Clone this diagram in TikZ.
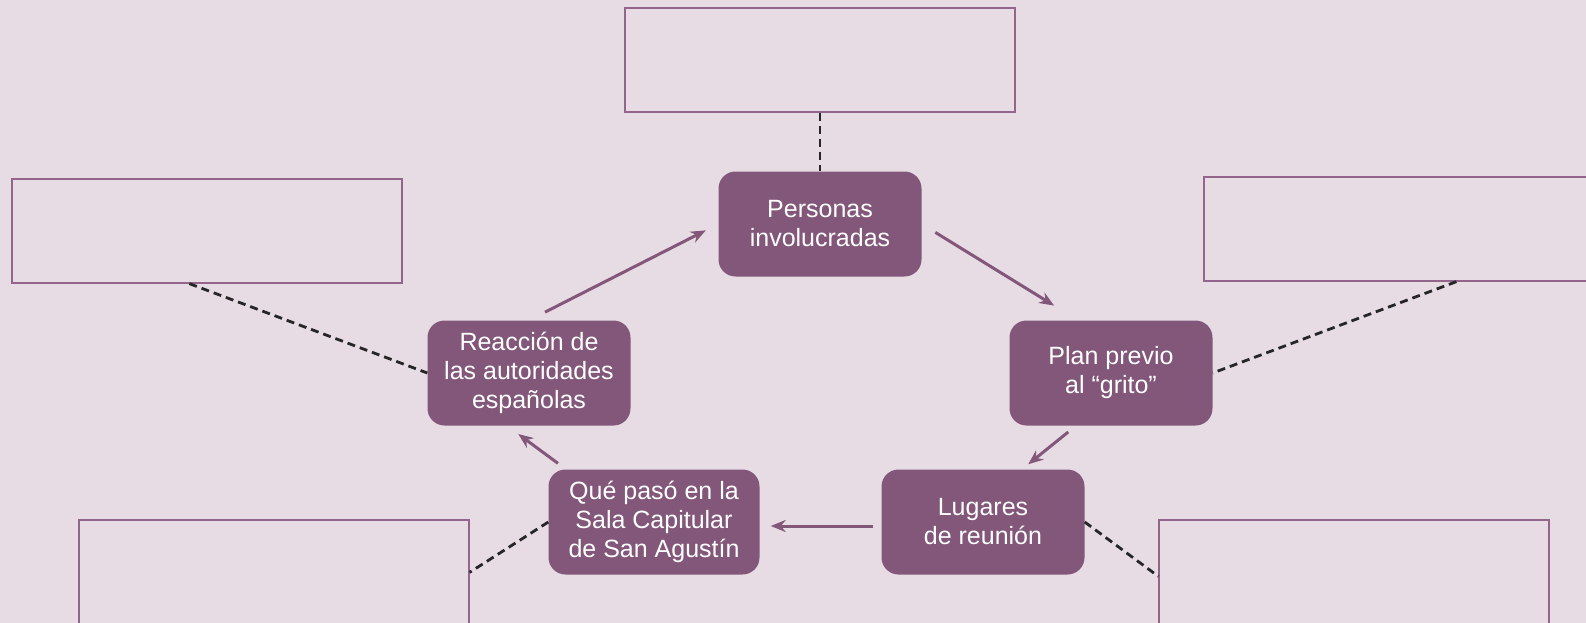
\documentclass[tikz,border=0pt]{standalone}
\usepackage{fontspec}
\setmainfont{Liberation Sans}
\usetikzlibrary{arrows.meta}
\definecolor{mauve}{HTML}{82577A}
\definecolor{lilac}{HTML}{E8DCE4}
\definecolor{framecol}{HTML}{93658B}
\begin{document}
\begin{tikzpicture}[x=1pt,y=-1pt]
            \tikzset{topic/.style = {shape=rectangle, rounded corners=17pt, fill=mauve, text=white, minimum width=203pt, minimum height=105pt, align=center, font=\fontsize{25}{29}\selectfont}}
            \tikzset{blank/.style = {shape=rectangle, draw=framecol, line width=1.3pt, minimum width=390pt, minimum height=104pt}}
            \tikzset{link/.style = {draw=mauve, line width=3pt, -{Stealth[length=15pt,width=12pt]}}}
            \tikzset{note/.style = {draw=black!85, line width=2.8pt, dash pattern=on 8pt off 5pt}}
            % background
            \fill[lilac] (0,0) rectangle (1586,623);
            \useasboundingbox (0,0) rectangle (1586,623);
            % empty boxes
            \node[blank] (tbox)  at (820,60)   {};
            \node[blank] (lbox)  at (207,231)  {};
            \node[blank] (rbox)  at (1399,229) {};
            \node[blank] (blbox) at (274,572)  {};
            \node[blank] (brbox) at (1354,572) {};
            % topics
            \node[topic] (pers) at (820,224)  {Personas\\involucradas};
            \node[topic] (reac) at (529,373)  {Reacción de\\las autoridades\\españolas};
            \node[topic] (plan) at (1111,373) {Plan previo\\al “grito”};
            \node[topic, minimum width=211pt] (que) at (654,522) {Qué pasó en la\\Sala Capitular\\de San Agustín};
            \node[topic] (lug)  at (983,522)  {Lugares\\de reunión};
            % arrows
            \draw[link, shorten <=18pt, shorten >=14pt] (reac.north) to (pers.west);
            \draw[link, shorten <=16pt, shorten >=28pt] (pers.east) to ([xshift=-33pt]plan.north);
            \draw[link, shorten <=10pt, shorten >=8pt] ([xshift=-35pt]plan.south) to ([xshift=39pt]lug.north);
            \draw[link, shorten <=8pt, shorten >=11pt] ([yshift=-4pt]lug.west) to ([yshift=-4pt]que.east);
            \draw[link, shorten <=10pt, shorten >=14pt] ([xshift=-88pt]que.north) to ([xshift=-22pt]reac.south);
            % dashed links
            \draw[note] (tbox.south) to (pers.north);
            \draw[note] ([xshift=178pt]lbox.south west) to (reac.west);
            \draw[note] ([xshift=253pt]rbox.south west) to (plan.east);
            \draw[note] (que.west) to ([yshift=-53pt]blbox.north east);
            \draw[note] (lug.east) to ([yshift=-57pt]brbox.north west);
        \end{tikzpicture}
\end{document}
